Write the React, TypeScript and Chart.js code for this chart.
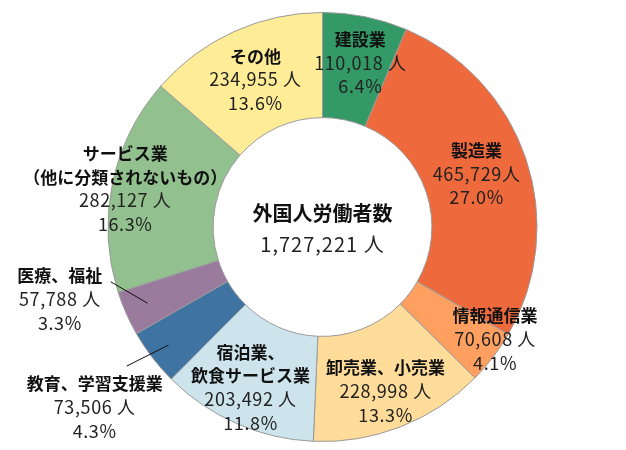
import React, { useEffect, useRef } from "react";
import { Chart, registerables } from "chart.js";

Chart.register(...registerables);

const categories: string[][] = [
  ["建設業"],
  ["製造業"],
  ["情報通信業"],
  ["卸売業、小売業"],
  ["宿泊業、", "飲食サービス業"],
  ["教育、学習支援業"],
  ["医療、福祉"],
  ["サービス業", "（他に分類されないもの）"],
  ["その他"],
];
const workers: number[] = [110018, 465729, 70608, 228998, 203492, 73506, 57788, 282127, 234955];
const countLabels: string[] = [
  "110,018 人",
  "465,729人",
  "70,608 人",
  "228,998 人",
  "203,492 人",
  "73,506 人",
  "57,788 人",
  "282,127 人",
  "234,955 人",
];
const percentLabels: string[] = ["6.4%", "27.0%", "4.1%", "13.3%", "11.8%", "4.3%", "3.3%", "16.3%", "13.6%"];
const centerTitle = "外国人労働者数";
const centerValue = "1,727,221 人";

const colors: string[] = [
  "#339966",
  "#EE693C",
  "#FF9F60",
  "#FFDC9A",
  "#CDE4EC",
  "#3F74A2",
  "#9A7B9D",
  "#92C08E",
  "#FFEC96",
];

// label placement: radius as fraction of outer radius, angle shift in degrees from arc middle
const labelRadius: number[] = [0.786, 0.76, 0.96, 0.82, 0.82, 1.355, 1.27, 0.937, 0.755];
const labelShift: number[] = [1.5, -0.5, -4.3, 0.4, 0.5, -0.9, 8.4, -0.7, 0];
// leader lines: [startRadiusFrac, startShift, endRadiusFrac, endShift] or null
const leaders: (number[] | null)[] = [
  null, null, null, null, null,
  [0.905, 0, 1.12, 2.1],
  [0.89, 0.3, 1.02, 9.3],
  null, null,
];

const FONT = '"Noto Sans CJK JP", "Noto Sans", sans-serif';

const labelPlugin = {
  id: "sliceLabels",
  afterDraw(chart: any) {
    const ctx = chart.ctx as CanvasRenderingContext2D;
    const meta = chart.getDatasetMeta(0);
    ctx.save();
    ctx.textAlign = "center";
    ctx.textBaseline = "middle";
    ctx.fillStyle = "#111";
    const lh = 23.5;
    meta.data.forEach((arc: any, i: number) => {
      const { x, y, startAngle, endAngle, outerRadius } = arc.getProps(
        ["x", "y", "startAngle", "endAngle", "outerRadius"],
        true
      );
      const mid = (startAngle + endAngle) / 2;
      const lead = leaders[i];
      if (lead) {
        const a1 = mid + (lead[1] * Math.PI) / 180;
        const a2 = mid + (lead[3] * Math.PI) / 180;
        ctx.beginPath();
        ctx.strokeStyle = "#111";
        ctx.lineWidth = 1;
        ctx.moveTo(x + Math.cos(a1) * outerRadius * lead[0], y + Math.sin(a1) * outerRadius * lead[0]);
        ctx.lineTo(x + Math.cos(a2) * outerRadius * lead[2], y + Math.sin(a2) * outerRadius * lead[2]);
        ctx.stroke();
      }
      const a = mid + (labelShift[i] * Math.PI) / 180;
      const r = outerRadius * labelRadius[i];
      const cx = x + Math.cos(a) * r;
      const cy = y + Math.sin(a) * r;
      const lines: { t: string; bold: boolean }[] = [
        ...categories[i].map((t) => ({ t, bold: true })),
        { t: countLabels[i], bold: false },
        { t: percentLabels[i], bold: false },
      ];
      const top = cy - ((lines.length - 1) * lh) / 2;
      lines.forEach((ln, k) => {
        ctx.font = ln.bold ? `bold 17px ${FONT}` : `18px ${FONT}`;
        (ctx as any).letterSpacing = ln.bold ? "0px" : "0.6px";
        ctx.fillStyle = ln.bold ? "#111" : "#222";
        ctx.fillText(ln.t, cx, top + k * lh);
      });
    });
    // center text
    const c = meta.data[0];
    ctx.fillStyle = "#111";
    ctx.font = `bold 20px ${FONT}`;
    (ctx as any).letterSpacing = "0px";
    ctx.fillText(centerTitle, c.x, c.y - 14);
    ctx.font = `20px ${FONT}`;
    ctx.fillStyle = "#222";
    (ctx as any).letterSpacing = "1px";
    ctx.fillText(centerValue, c.x, c.y + 17);
    ctx.restore();
  },
};

export default function App() {
  const ref = useRef<HTMLCanvasElement | null>(null);
  useEffect(() => {
    if (!ref.current) return;
    const chart = new Chart(ref.current, {
      type: "doughnut",
      data: {
        labels: categories.map((c) => c.join("")),
        datasets: [
          {
            data: workers,
            backgroundColor: colors,
            borderColor: "#9a9a9a",
            borderWidth: 1,
          },
        ],
      },
      options: {
        animation: false,
        responsive: false,
        cutout: "51%",
        layout: { padding: { top: 12, bottom: 8, left: 19, right: 0 } },
        plugins: {
          legend: { display: false },
          tooltip: { enabled: false },
        },
      },
      plugins: [labelPlugin],
    });
    return () => chart.destroy();
  }, []);
  return (
    <div style={{ position: "absolute", left: 0, top: 0, width: 626, height: 450, background: "#fff" }}>
      <canvas ref={ref} width={626} height={450} style={{ width: 626, height: 450 }} />
    </div>
  );
}
